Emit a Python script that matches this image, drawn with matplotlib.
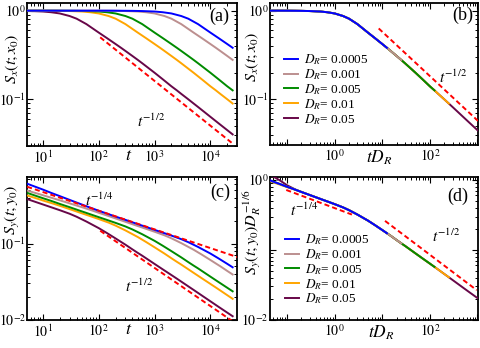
import numpy as np
import matplotlib
matplotlib.use('Agg')
import matplotlib.pyplot as plt
from matplotlib.ticker import LogLocator, FuncFormatter, NullFormatter
from matplotlib.lines import Line2D

# ---------------- data ----------------
DR = [0.0005, 0.001, 0.005, 0.01, 0.05]
DR_labels = ['0.0005', '0.001', '0.005', '0.01', '0.05']
colors = ['#0000ff', '#bc8f8f', '#008b00', '#ffa500', '#670748']
t_range = [1, 25000]

# scaled time t*D_R sample points
x_early = [0.0005, 0.001, 0.002, 0.003, 0.005, 0.007, 0.01, 0.02, 0.03, 0.05, 0.07, 0.1, 0.15]
x_late = [0.2, 0.3, 0.5, 0.7, 1, 1.5, 2, 3, 5, 7, 10, 12.5, 15, 20, 25, 30, 50, 70,
          100, 125, 150, 200, 250, 300, 500, 700, 1000, 1250]

# S_x(t;x0) as function of t*D_R (collapsed, panel b)
Sx_early = [1.0, 1.0, 1.0, 1.0, 1.0, 1.0, 1.0, 1.0, 1.0, 1.0, 1.0, 0.999, 0.997]
Sx_late = [0.995, 0.99, 0.978, 0.96, 0.93, 0.87, 0.812, 0.705, 0.565, 0.49,
           0.42, 0.381, 0.351, 0.308, 0.278, 0.255, 0.199, 0.168,
           0.14, 0.126, 0.115, 0.1, 0.0895, 0.0818, 0.0633, 0.0535, 0.0448, 0.0401]

# S_y(t;y0) D_R^{-1/6} as function of t*D_R (panel d)
nan = np.nan
gy_early = {
    0.0005: [3.38, 2.81, 2.33, 2.08, 1.81, 1.64, 1.486, 1.224, 1.095, 0.954, 0.877, 0.80, 0.725],
    0.001:  [nan, 2.31, 1.97, 1.79, 1.58, 1.47, 1.36, 1.167, 1.064, 0.947, 0.875, 0.80, 0.725],
    0.005:  [nan, nan, nan, nan, 1.75, 1.6, 1.43, 1.2, 1.078, 0.95, 0.877, 0.80, 0.725],
    0.01:   [nan, nan, nan, nan, nan, nan, 1.55, 1.25, 1.09, 0.93, 0.86, 0.79, 0.722],
    0.05:   [nan, nan, nan, nan, nan, nan, nan, nan, nan, 1.13, 0.99, 0.84, 0.73],
}
gy_late = [0.674, 0.609, 0.536, 0.493, 0.451, 0.405, 0.37, 0.32, 0.262, 0.226,
           0.192, 0.173, 0.159, 0.138, 0.124, 0.114, 0.0888, 0.0754,
           0.0635, 0.057, 0.0521, 0.0452, 0.0405, 0.037, 0.0287, 0.0243, 0.0204, 0.0183]

# dashed guide lines (power laws)
guide_a_t, guide_a_S = [106, 26000], [0.5, 0.031]
guide_b_x, guide_b_S = [8.4, 1030], [0.63, 0.0569]
guide_c1_t, guide_c1_S = [5.2, 30000], [0.556, 0.0665]
guide_c2_t, guide_c2_S = [106, 30000], [0.147, 0.0087]
guide_d1_x, guide_d1_S = [0.096, 2.3], [0.72, 0.32]
guide_d2_x, guide_d2_S = [11.4, 964], [0.26, 0.0265]

# ---------------- style ----------------
plt.rcParams['font.family'] = 'serif'
plt.rcParams['font.serif'] = ['Liberation Serif', 'DejaVu Serif']
plt.rcParams['mathtext.fontset'] = 'stix'
plt.rcParams['xtick.direction'] = 'in'
plt.rcParams['ytick.direction'] = 'in'
plt.rcParams['xtick.top'] = True
plt.rcParams['ytick.right'] = True

W, H = 480, 348
fig = plt.figure(figsize=(4.8, 3.48), dpi=100)


def rect(l, r, t, b):
    return [l / W, 1 - b / H, (r - l) / W, (b - t) / H]


ax_a = fig.add_axes(rect(27.3, 236.5, 2.7, 145.7))
ax_b = fig.add_axes(rect(270, 477.7, 2.7, 145.0))
ax_c = fig.add_axes(rect(27.3, 236.5, 176.7, 319.7))
ax_d = fig.add_axes(rect(270, 477.7, 176.7, 319.7))


def setup(ax, xlim, ylim, xshow, yshow):
    ax.set_xscale('log')
    ax.set_yscale('log')
    ax.set_xlim(*xlim)
    ax.set_ylim(*ylim)
    for axis, show in ((ax.xaxis, xshow), (ax.yaxis, yshow)):
        axis.set_major_locator(LogLocator(base=10, numticks=30))
        axis.set_minor_locator(LogLocator(base=10, subs=np.arange(2, 10) * 1.0, numticks=30))
        axis.set_minor_formatter(NullFormatter())

        def f(v, pos, show=show):
            e = int(round(np.log10(v)))
            return r'$10^{%d}$' % e if e in show else ''
        axis.set_major_formatter(FuncFormatter(f))
    ax.tick_params(which='major', length=4.5, width=0.8, labelsize=10)
    ax.tick_params(which='minor', length=2.4, width=0.7)
    ax.tick_params(axis='x', pad=2.5)
    ax.tick_params(axis='y', pad=1.0)
    for s in ax.spines.values():
        s.set_linewidth(1.3)


setup(ax_a, (5.24, 2.93e4), (0.0299, 1.23), [1, 2, 3, 4], [0, -1])
setup(ax_b, (0.0437, 1010), (0.0305, 1.23), [0, 2], [0, -1])
setup(ax_c, (5.24, 2.93e4), (0.0100, 0.753), [1, 2, 3, 4], [-1, -2])
setup(ax_d, (0.0437, 1010), (0.0100, 1.115), [0, 2], [0, -2])

xk = np.array(x_early + x_late)
Sx = np.array(Sx_early + Sx_late)
lw = 1.4
for i in reversed(range(len(DR))):
    d = DR[i]
    c = colors[i]
    m = (xk >= d * t_range[0] * (1 - 1e-9)) & (xk <= d * t_range[1] * (1 + 1e-9))
    ax_a.plot(xk[m] / d, Sx[m], color=c, lw=lw, zorder=10 - i)
    ax_b.plot(xk[m], Sx[m], color=c, lw=lw, zorder=10 - i)
    g = np.array(gy_early[d] + gy_late)
    m2 = m & np.isfinite(g)
    ax_c.plot(xk[m2] / d, g[m2] * d ** (1 / 6), color=c, lw=lw, zorder=10 - i)
    ax_d.plot(xk[m2], g[m2], color=c, lw=lw, zorder=10 - i)

dash = dict(color='#ff0000', lw=1.4, dashes=(2.6, 1.6), zorder=20)
ax_a.plot(guide_a_t, guide_a_S, **dash)
ax_b.plot(guide_b_x, guide_b_S, **dash)
ax_c.plot(guide_c1_t, guide_c1_S, **dash)
ax_c.plot(guide_c2_t, guide_c2_S, **dash)
ax_d.plot(guide_d1_x, guide_d1_S, **dash)
ax_d.plot(guide_d2_x, guide_d2_S, **dash)

# legends
for ax, anchor in ((ax_b, (0.065, 0.65)), (ax_d, (0.07, 0.61))):
    handles = [Line2D([], [], color=colors[i], lw=lw) for i in range(len(DR))]
    labels = [r'$D_R$= ' + DR_labels[i] for i in range(len(DR))]
    ax.legend(handles, labels, loc='upper left', bbox_to_anchor=anchor, frameon=False,
              fontsize=9.5, handlelength=1.1, handletextpad=0.45, labelspacing=0.0,
              borderpad=0, borderaxespad=0)

# axis labels (placed as in the reference)
lab = 11.5
fig.text(12.3 / W, 1 - 58.5 / H, r'$S_x(t;x_0)$', rotation=90, ha='center', va='center', fontsize=lab)
fig.text(252.5 / W, 1 - 56.7 / H, r'$S_x(t;x_0)$', rotation=90, ha='center', va='center', fontsize=lab)
fig.text(12.0 / W, 1 - 210 / H, r'$S_y(t;y_0)$', rotation=90, ha='center', va='center', fontsize=lab)
fig.text(252.5 / W, 1 - 232 / H, r'$S_y(t;y_0)D_R^{-1/6}$', rotation=90, ha='center', va='center', fontsize=lab)
fig.text(128.3 / W, 1 - 155.7 / H, r'$t$', ha='center', va='center', fontsize=13)
fig.text(378.8 / W, 1 - 158 / H, r'$tD_R$', ha='center', va='center', fontsize=12.5)
fig.text(128.3 / W, 1 - 329.7 / H, r'$t$', ha='center', va='center', fontsize=13)
fig.text(381.7 / W, 1 - 332.3 / H, r'$tD_R$', ha='center', va='center', fontsize=12.5)

# panel tags
for ax, (px, py), s in ((ax_a, (0.918, 0.907), '(a)'), (ax_b, (0.927, 0.908), '(b)'),
                        (ax_c, (0.924, 0.891), '(c)'), (ax_d, (0.905, 0.862), '(d)')):
    ax.text(px, py, s, transform=ax.transAxes, ha='center', va='center', fontsize=13)

# power-law annotations
ann = 11
ax_a.text(0.526, 0.133, r'$t^{-1/2}$', transform=ax_a.transAxes, fontsize=ann, va='baseline')
ax_b.text(0.815, 0.438, r'$t^{-1/2}$', transform=ax_b.transAxes, fontsize=ann, va='baseline')
ax_c.text(0.276, 0.797, r'$t^{-1/4}$', transform=ax_c.transAxes, fontsize=ann, va='baseline')
ax_c.text(0.468, 0.192, r'$t^{-1/2}$', transform=ax_c.transAxes, fontsize=ann, va='baseline')
ax_d.text(0.096, 0.727, r'$t^{-1/4}$', transform=ax_d.transAxes, fontsize=ann, va='baseline')
ax_d.text(0.778, 0.541, r'$t^{-1/2}$', transform=ax_d.transAxes, fontsize=ann, va='baseline')

fig.savefig('out.png', dpi=100)
